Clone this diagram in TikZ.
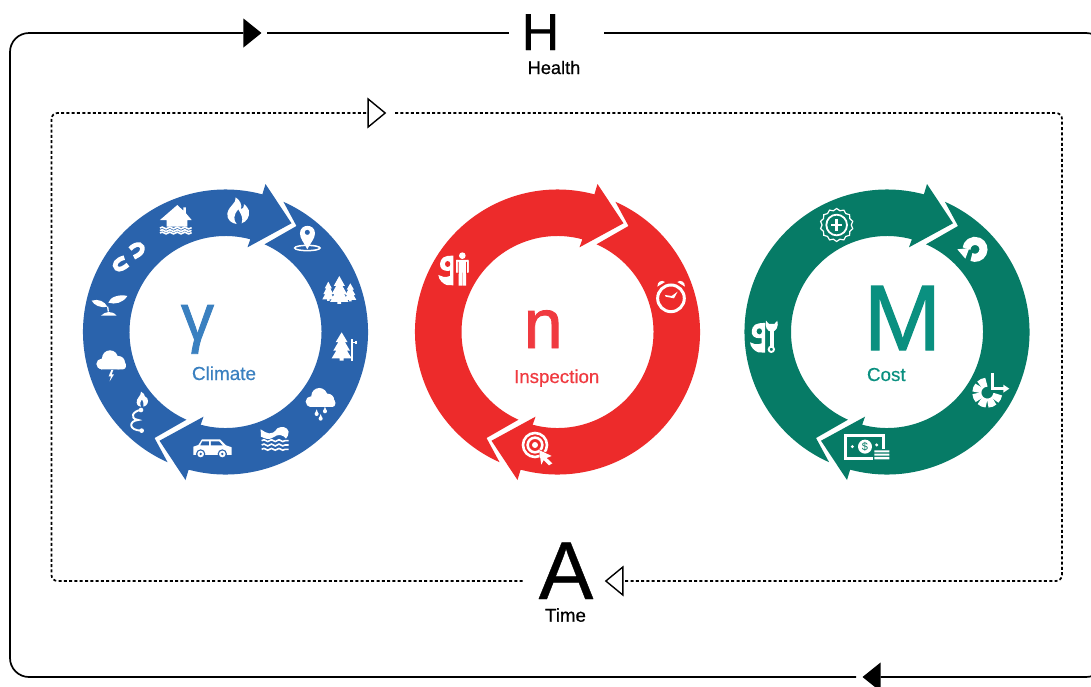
\documentclass[tikz,border=0pt]{standalone}
\usepackage{fontspec}
\setmainfont{Liberation Sans}
\newfontfamily\heavyA[FakeBold=1.2]{Liberation Sans}
\newfontfamily\heavyB[FakeBold=0.5]{Liberation Sans}
\usetikzlibrary{shapes.geometric,decorations.pathmorphing}
\definecolor{ringblue}{HTML}{2A63AC}
\definecolor{ringred}{HTML}{ED2B2B}
\definecolor{ringgreen}{HTML}{067B66}
\definecolor{txtblue}{HTML}{3A80C0}
\definecolor{txtred}{HTML}{F03A40}
\definecolor{txtgreen}{HTML}{0A9080}
\newcommand{\fsz}[1]{\fontsize{#1}{#1}\selectfont}
\newcommand{\ringarrow}{%
  (246:142.5) arc[start angle=246,end angle=75,radius=142.5] -- (40,148) -- (66,108.7) -- (22,84.7)
  -- (75:96) arc[start angle=75,end angle=246,radius=96] -- (-71,-106) -- cycle}
\newcommand{\ringdraw}[3]{%
  \begin{scope}[shift={(#1,#2)},x=1pt,y=1pt]
    \fill[#3] \ringarrow;
    \fill[#3,rotate=180] \ringarrow;
  \end{scope}}
\newcommand{\treeS}[4]{%
  \begin{scope}[shift={(#1,#2)},xscale=#3,yscale=#4]
    \fill[white] (0,0) -- (.3,.35) -- (.17,.35) -- (.42,.65) -- (.27,.65) -- (.5,.92) -- (.1,.92) -- (.1,1) -- (-.1,1) -- (-.1,.92) -- (-.5,.92) -- (-.27,.65) -- (-.42,.65) -- (-.17,.35) -- (-.3,.35) -- cycle;
  \end{scope}}
\newcommand{\cloudS}[2]{%
  \begin{scope}[shift={(#1,#2)}]
    \fill[white,rounded corners=3pt] (7,33) rectangle (90,56);
    \fill[white] (42,23) circle[radius=24] (67,36) circle[radius=20] (17,40) circle[radius=16];
  \end{scope}}
\newcommand{\dropS}[2]{%
  \fill[white] (#1,#2) -- +(-5,13) -- +(5,13) -- cycle;
  \fill[white] (#1,#2) ++(0,14) circle[radius=6];}
\newcommand{\nineS}[3]{%
  \begin{scope}[shift={(#1,#2)}]
    \fill[white] (40,-1) -- (27,0) .. controls (8,2) and (3,20) .. (6,32) .. controls (10,44) and (24,46) .. (35,44) -- (35,60) .. controls (20,66) and (10,62) .. (0,57) .. controls (1,72) and (15,84) .. (25,87) -- (45,88) -- (45,-1) -- cycle;
    \fill[#3] (28,24) ellipse[x radius=8,y radius=9];
  \end{scope}}
\tikzset{
  outerline/.style={line width=1.7pt,black,rounded corners=19pt},
  innerline/.style={line width=1.7pt,black,rounded corners=6pt,dash pattern=on 3pt off 2.3pt},
  tri/.style={isosceles triangle,isosceles triangle stretches,inner sep=0pt,minimum width=29pt,minimum height=18pt,anchor=apex},
  solidtri/.style={tri,fill=black},
  hollowtri/.style={tri,draw=black,fill=white,line width=1.4pt},
  lbl/.style={inner sep=0pt,anchor=base},
  wavy/.style={white,line width=1.6pt,decorate,decoration={snake,amplitude=.9pt,segment length=7.5pt}},
  iconline/.style={white,line width=#1},
  iconline/.default=1.5pt
}
\begin{document}
\begin{tikzpicture}[x=1pt,y=-1pt]
\clip (0,0) rectangle (1091,686);
\fill[white] (0,0) rectangle (1091,686);

% rings
\ringdraw{225.5}{332}{ringblue}
\ringdraw{557.5}{332}{ringred}
\ringdraw{887}{332}{ringgreen}

% frame nodes
\node[solidtri,shape border rotate=0] (t1) at (262,33) {};
\node[hollowtri,shape border rotate=0,minimum width=28pt,minimum height=17pt] (t2) at (387,113) {};
\node[hollowtri,shape border rotate=180,minimum width=28pt,minimum height=17pt] (t3) at (604,581) {};
\node[solidtri,shape border rotate=180] (t4) at (862,677) {};
\coordinate (hL) at (509,33);
\coordinate (hR) at (604,33);
\coordinate (aL) at (522.6,581);
\coordinate (oTR) at (1105,33);
\coordinate (oBR) at (1105,677);
\coordinate (oBL) at (10,677);
\coordinate (oTL) at (10,33);
\coordinate (iTL) at (51.5,113);
\coordinate (iBL) at (51.5,581);
\coordinate (iTR) at (1062,113);
\coordinate (iBR) at (1062,581);

% outer loop
\draw[outerline] (t4.apex) ++(-6,0) -- (oBL) -- (oTL) -- (t1.lower side);
\draw[line width=1.7pt] (t1.apex) ++(5,0) -- (hL);
\draw[outerline] (hR) -- (oTR) -- (oBR) -- (t4.lower side);
% inner loop
\draw[innerline] (aL) -- (iBL) -- (iTL) -- (t2.lower side);
\draw[innerline] (t2.apex) ++(8,0) -- (iTR) -- (iBR) -- (t3.lower side);

% letters
\node[lbl] (H) at (540.5,50) {\heavyB\fsz{52}H};
\node[lbl] (Hl) at (554,74) {\heavyB\fsz{18.2}Health};
\node[lbl] (A) at (566,599) {\heavyB\fsz{82}A};
\node[lbl] (Al) at (565.5,621.7) {\heavyB\fsz{18.7}Time};
\node[lbl,text=txtblue] (Y) at (197.5,340) {\heavyA\fsz{66}γ};
\node[lbl,text=txtblue] (Yl) at (224,380) {\heavyB\fsz{18.9}Climate};
\node[lbl,text=txtred] (N) at (543.2,348) {\heavyA\fsz{70}n};
\node[lbl,text=txtred] (Nl) at (556.7,383) {\heavyB\fsz{18.7}Inspection};
\node[lbl,text=txtgreen] (M) at (902.5,350) {\heavyA\fsz{93}M};
\node[lbl,text=txtgreen] (Ml) at (886.3,381) {\heavyB\fsz{18.8}Cost};

% blue icons (coordinates at 3x, origin 70,170)
\begin{scope}[shift={(70,170)},x=.3333pt,y=-.3333pt]
  % flame
  \fill[white] (497,82) .. controls (500,100) and (478,105) .. (472,130) .. controls (470,150) and (485,160) .. (500,162) .. controls (490,150) and (490,135) .. (505,118) .. controls (515,135) and (520,145) .. (515,160) .. controls (530,155) and (540,140) .. (537,122) .. controls (532,110) and (525,105) .. (522,102) .. controls (522,112) and (518,118) .. (513,118) .. controls (517,105) and (510,90) .. (497,82) -- cycle;
  % house
  \fill[white] (322,105) -- (340,122) -- (340,112) -- (348,112) -- (348,130) -- (365,150) -- (352,150) -- (352,170) -- (290,170) -- (290,150) -- (270,150) -- cycle;
  \draw[wavy] (270,174) -- (365,174);
  \draw[wavy] (270,182) -- (365,182);
  \draw[wavy] (270,189) -- (365,189);
  % magnets
  \draw[iconline=4.6pt] (180,237) .. controls (200,215) and (225,222) .. (215,245) .. controls (212,252) and (200,258) .. (192,262);
  \draw[iconline=4.6pt] (163,263) .. controls (140,268) and (128,285) .. (140,295) .. controls (148,303) and (165,292) .. (174,284);
  % sprout
  \fill[white] (65,392) .. controls (85,385) and (105,395) .. (112,410) .. controls (90,415) and (72,405) .. (65,392) -- cycle;
  \fill[white] (172,378) .. controls (150,372) and (120,380) .. (115,398) .. controls (135,405) and (160,398) .. (172,378) -- cycle;
  \draw[iconline=1.3pt] (113,410) -- (115,425);
  \fill[white] (93,437) .. controls (105,425) and (125,420) .. (140,437) -- cycle;
  % cloud + bolt
  \cloudS{78}{542}
  \fill[white] (124,600) -- (116,619) -- (123,619) -- (119,634) -- (132,613) -- (125,613) -- (130,600) -- cycle;
  % flame + pipe
  \fill[white] (213,665) .. controls (214,678) and (198,685) .. (200,698) .. controls (202,708) and (208,710) .. (213,710) .. controls (208,700) and (212,692) .. (216,688) .. controls (220,694) and (222,702) .. (220,710) .. controls (230,708) and (238,698) .. (232,685) .. controls (228,680) and (226,680) .. (225,680) .. controls (225,675) and (220,668) .. (213,665) -- cycle;
  \draw[iconline=1.9pt] (213,720) .. controls (190,722) and (175,745) .. (205,750) .. controls (175,752) and (175,782) .. (215,782);
  \fill[white] (213,720) circle[radius=7] (215,782) circle[radius=7];
  % pin
  \fill[white,even odd rule] (712,238) .. controls (700,215) and (690,205) .. (690,190) .. controls (690,160) and (735,160) .. (735,190) .. controls (735,205) and (724,215) .. (712,238) -- cycle (712,187) circle[radius=8];
  \draw[iconline=1.5pt] (712,234) ellipse[x radius=38,y radius=8];
  % trees
  \treeS{808}{318}{55}{84}
  \treeS{775}{335}{36}{58}
  \treeS{841}{340}{36}{54}
  \treeS{815}{487}{60}{85}
  \draw[iconline=1.5pt] (846,508) -- (846,574);
  \draw[iconline=1.5pt] (846,518) -- (860,518);
  \draw[iconline=1.2pt] (858,512) -- (858,522);
  % rain cloud
  \cloudS{706}{655}
  \dropS{740}{718}
  \dropS{752}{732}
  \dropS{765}{710}
  % flood
  \fill[white] (572,778) .. controls (590,790) and (605,800) .. (622,775) .. controls (635,768) and (652,770) .. (656,785) .. controls (656,795) and (652,802) .. (648,806) .. controls (640,795) and (625,790) .. (610,802) .. controls (595,812) and (585,805) .. (573,800) -- cycle;
  \draw[wavy] (575,812) -- (656,812);
  \draw[wavy] (575,825) -- (656,825);
  \draw[wavy] (575,838) -- (656,838);
  % car
  \fill[white] (370,855) -- (370,830) -- (385,825) -- (396,808) -- (450,808) -- (468,826) -- (485,832) -- (485,855) -- cycle;
  \fill[ringblue] (397,814) -- (417,814) -- (417,826) -- (391,826) -- cycle (423,814) -- (447,814) -- (458,826) -- (423,826) -- cycle;
  \fill[ringblue] (392,852) circle[radius=14] (457,852) circle[radius=14];
  \fill[white] (392,852) circle[radius=10] (457,852) circle[radius=10];
  \fill[ringblue] (392,852) circle[radius=4] (457,852) circle[radius=4];
\end{scope}

% red icons (origin 400,170)
\begin{scope}[shift={(400,170)},x=.3333pt,y=-.3333pt]
  \nineS{115}{258}{ringred}
  \fill[white] (187,257) circle[radius=10];
  \fill[white,rounded corners=1pt] (168,270) rectangle (206,308);
  \fill[white] (176,300) rectangle (186,347) (188,300) rectangle (198,347);
  \fill[ringred] (173,276) rectangle (176,312) (198,276) rectangle (201,312);
  \fill[white] (168,270) rectangle (173,308) (201,270) rectangle (206,308);
  % clock
  \draw[iconline=3pt] (813,385) circle[radius=40];
  \fill[white] (772,350) .. controls (772,335) and (785,328) .. (795,336) -- cycle;
  \fill[white] (855,350) .. controls (855,335) and (842,328) .. (832,336) -- cycle;
  \fill[white] (795,375) -- (815,378) -- (833,365) -- (822,385) -- (797,380) -- cycle;
  % target
  \draw[iconline=2.6pt] (405,825) circle[radius=36];
  \draw[iconline=2.6pt] (405,825) circle[radius=22];
  \fill[white] (405,825) circle[radius=9];
  \fill[ringred] (417,838) -- (462,858) -- (448,866) -- (462,884) -- (448,892) -- (433,874) -- (422,890) -- cycle;
  \fill[white] (417,840) -- (455,858) -- (440,864) -- (457,880) -- (447,886) -- (431,870) -- (424,884) -- cycle;
\end{scope}

% green icons (origin 730,170)
\begin{scope}[shift={(730,170)},x=.3333pt,y=-.3333pt]
  % badge
  \node[star,star points=14,star point ratio=1.13,draw=white,line width=1.2pt,inner sep=0pt,minimum size=33pt] (badge) at (320,165) {};
  \draw[iconline=1.8pt] (320,165) circle[radius=31];
  \draw[iconline=2.6pt] (320,148) -- (320,182);
  \draw[iconline=2.6pt] (303,165) -- (337,165);
  % refresh
  \begin{scope}[shift={(735,238)},x=1pt,y=1pt]
    \draw[white,line width=8pt] (-115:8.5pt) arc[start angle=-115,end angle=175,radius=8.5pt];
  \end{scope}
  \fill[white] (682,238) -- (718,234) -- (706,266) -- cycle;
  % pie
  \begin{scope}[shift={(772,668)},x=1pt,y=1pt]
    \foreach \a/\b in {95/135,140/178,183/222,227/266,272/310,315/352}
      \draw[white,line width=9pt] (\a:10.5pt) arc[start angle=\a,end angle=\b,radius=10.5pt];
  \end{scope}
  \fill[ringgreen] (775,668) -- (775,600) -- (850,600) -- (850,668) -- cycle;
  \draw[white,line width=2.6pt] (787,610) -- (787,655) -- (825,655);
  \fill[white] (820,644) -- (838,656) -- (820,668) -- cycle;
  % money
  \draw[iconline=2.4pt] (347,797) rectangle (460,865);
  \fill[white] (405,830) circle[radius=21] (367,830) circle[radius=5] (440,825) circle[radius=5];
  \node[inner sep=0pt,text=ringgreen] (dollar) at (405,830) {\fsz{11}\$};
  \fill[ringgreen] (428,836) rectangle (482,872);
  \fill[white] (433,841) rectangle (478,847) (433,851) rectangle (478,857) (433,861) rectangle (478,868);
  % wrench
  \nineS{60}{460}{ringgreen}
  \fill[white] (119,480) rectangle (131,530);
  \fill[white] (108,452) .. controls (103,470) and (112,485) .. (125,485) .. controls (138,485) and (147,470) .. (142,452) -- (133,462) -- (117,462) -- cycle;
  \draw[iconline=1.9pt] (124,538) circle[radius=8];
\end{scope}
\end{tikzpicture}
\end{document}
